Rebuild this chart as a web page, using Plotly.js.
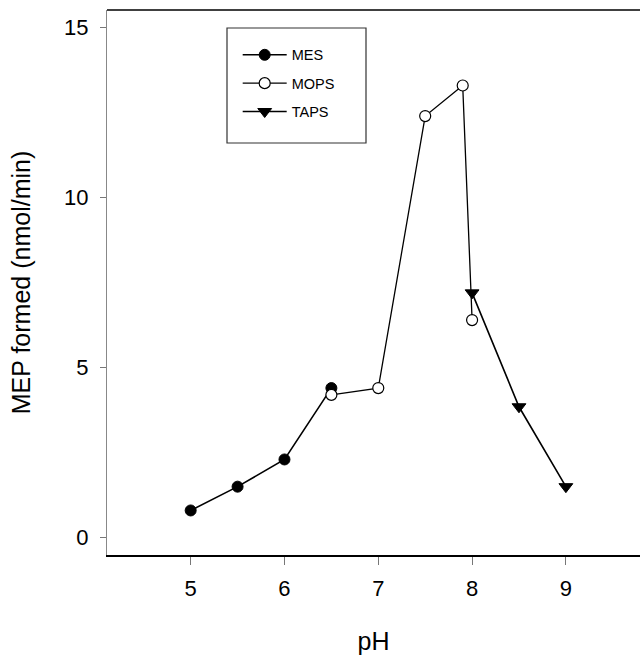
<!DOCTYPE html>
<html>
<head>
<meta charset="utf-8">
<script src="https://cdn.plot.ly/plotly-3.0.1.min.js"></script>
<style>html,body{margin:0;padding:0;background:#fff;}#chart{width:640px;height:656px;}</style>
</head>
<body>
<div id="chart"></div>
<script>
var mesPH = [5, 5.5, 6, 6.5];
var mesMEP = [0.8, 1.5, 2.3, 4.4];
var mopsPH = [6.5, 7, 7.5, 7.9, 8];
var mopsMEP = [4.2, 4.4, 12.4, 13.3, 6.4];
var tapsPH = [8, 8.5, 9];
var tapsMEP = [7.2, 3.85, 1.5];
var xTicks = [5, 6, 7, 8, 9];
var yTicks = [0, 5, 10, 15];

var font = 'Liberation Sans, Arial, Helvetica, sans-serif';
var traces = [
  {x: mesPH, y: mesMEP, name: 'MES', mode: 'lines+markers', legendgroup: 'a',
   line: {color: '#000', width: 1.6},
   marker: {symbol: 'circle', size: 11, color: '#000', line: {color: '#000', width: 1}}},
  {x: mopsPH, y: mopsMEP, name: 'MOPS', mode: 'lines+markers', legendgroup: 'b',
   line: {color: '#000', width: 1.3},
   marker: {symbol: 'circle', size: 11, color: '#fff', line: {color: '#000', width: 1.2}}},
  {x: tapsPH, y: tapsMEP, name: 'TAPS', mode: 'lines+markers', legendgroup: 'c',
   line: {color: '#000', width: 1.6},
   marker: {symbol: 'triangle-down', size: 12, color: '#000', line: {color: '#000', width: 1}}}
];

var layout = {
  width: 640, height: 656,
  margin: {l: 107, r: 0, t: 10, b: 101},
  paper_bgcolor: '#fff', plot_bgcolor: '#fff',
  font: {family: font, color: '#000'},
  showlegend: true,
  legend: {
    x: 0.2452, y: 0.947, xanchor: 'left', yanchor: 'top',
    bgcolor: 'rgba(0,0,0,0)', borderwidth: 0,
    font: {size: 14.5, family: font, color: '#000'},
    tracegroupgap: 6.5, traceorder: 'grouped', itemwidth: 44
  },
  xaxis: {
    range: [4.108, 9.79],
    tickvals: xTicks, ticktext: xTicks.map(String),
    ticks: 'outside', ticklen: 8, tickwidth: 1, tickcolor: '#777',
    ticklabelstandoff: 5,
    showline: true, linecolor: '#000', linewidth: 1.6, mirror: false,
    showgrid: false, zeroline: false,
    tickfont: {size: 22, family: font, color: '#000'},
    title: {text: 'pH', font: {size: 25, family: font, color: '#000'}, standoff: 32}
  },
  yaxis: {
    range: [-0.51, 15.52],
    tickvals: yTicks, ticktext: yTicks.map(String),
    ticks: 'outside', ticklen: 6, tickwidth: 1, tickcolor: '#777',
    ticklabelstandoff: 7,
    showline: true, linecolor: '#888', linewidth: 1,
    showgrid: false, zeroline: false,
    tickfont: {size: 22, family: font, color: '#000'},
    title: {text: 'MEP formed (nmol/min)', font: {size: 25, family: font, color: '#000'}, standoff: 26}
  },
  shapes: [
    {type: 'line', xref: 'paper', yref: 'paper', x0: 0, x1: 1, y0: 1, y1: 1,
     line: {color: '#000', width: 1.6}},
    {type: 'rect', xref: 'paper', yref: 'paper',
     x0: (227 - 107) / 533, x1: (366 - 107) / 533,
     y0: (555 - 143) / 545, y1: (555 - 28) / 545,
     line: {color: '#333', width: 1.2}, fillcolor: 'rgba(0,0,0,0)'}
  ]
};

Plotly.newPlot('chart', traces, layout, {displayModeBar: false, staticPlot: true});
</script>
</body>
</html>
